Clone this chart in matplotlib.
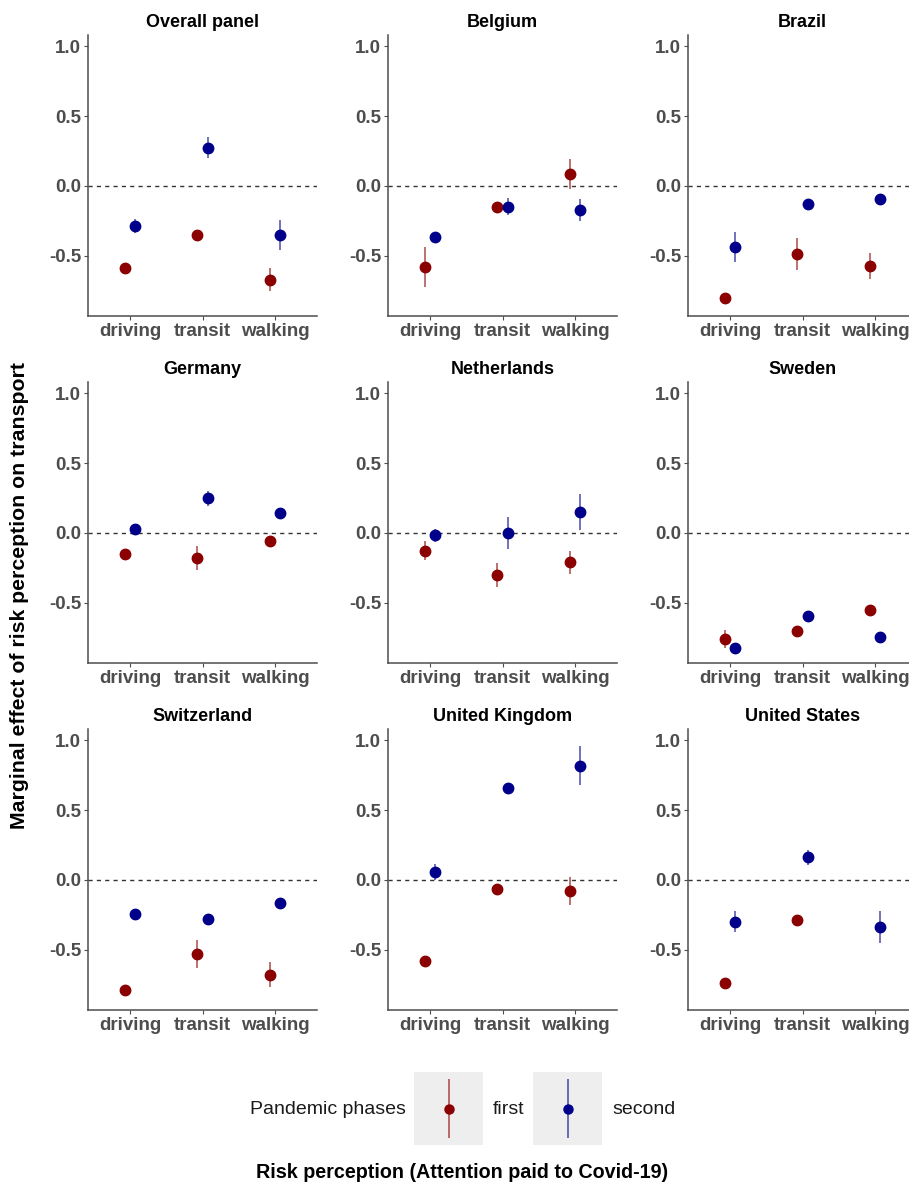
import matplotlib
matplotlib.use("Agg")
import matplotlib.pyplot as plt
import numpy as np

plt.rcParams['font.family'] = ['Liberation Sans', 'DejaVu Sans']

# ── Données ──────────────────────────────────────────────────────────────────
modes = ["driving", "transit", "walking"]
panels = ["Overall panel", "Belgium", "Brazil",
          "Germany", "Netherlands", "Sweden",
          "Switzerland", "United Kingdom", "United States"]

# first phase : estimation et demi-largeur de l'intervalle
first_est = [
    [-0.585, -0.35, -0.67],
    [-0.58, -0.149, 0.086],
    [-0.80, -0.485, -0.573],
    [-0.15, -0.179, -0.057],
    [-0.126, -0.298, -0.21],
    [-0.757, -0.702, -0.552],
    [-0.785, -0.529, -0.677],
    [-0.577, -0.067, -0.081],
    [-0.739, -0.285, np.nan],
]
first_err = [
    [0.02, 0.025, 0.08],
    [0.14, 0.02, 0.11],
    [0.02, 0.115, 0.095],
    [0.02, 0.083, 0.02],
    [0.068, 0.086, 0.08],
    [0.063, 0.02, 0.02],
    [0.03, 0.10, 0.09],
    [0.03, 0.03, 0.10],
    [0.02, 0.02, 0.0],
]
# second phase
second_est = [
    [-0.285, 0.275, -0.35],
    [-0.362, -0.149, -0.17],
    [-0.437, -0.13, -0.09],
    [0.031, 0.248, 0.143],
    [-0.017, 0.0, 0.15],
    [-0.821, -0.595, -0.743],
    [-0.246, -0.28, -0.163],
    [0.057, 0.656, 0.818],
    [-0.299, 0.163, -0.335],
]
second_err = [
    [0.05, 0.075, 0.11],
    [0.02, 0.06, 0.08],
    [0.11, 0.02, 0.02],
    [0.02, 0.055, 0.02],
    [0.046, 0.114, 0.13],
    [0.02, 0.02, 0.02],
    [0.03, 0.02, 0.03],
    [0.06, 0.03, 0.139],
    [0.075, 0.054, 0.114],
]

RED = '#8B0000'
BLUE = '#00008B'
GREY = '#4d4d4d'
W, H = 909, 1187

fig = plt.figure(figsize=(W / 100, H / 100), dpi=100)

col_left = [88, 388, 688]
row_top = [35, 382, 729]
ax_w, ax_h = 229, 281

x = np.arange(1, len(modes) + 1)
dodge = 0.075

for i, name in enumerate(panels):
    r, c = divmod(i, 3)
    ax = fig.add_axes([col_left[c] / W, 1 - (row_top[r] + ax_h) / H,
                       ax_w / W, ax_h / H])
    ax.axhline(0, color='#333333', ls=(0, (3, 3)), lw=1, zorder=1)

    for est, err, col, off in [(first_est[i], first_err[i], RED, -dodge),
                               (second_est[i], second_err[i], BLUE, dodge)]:
        est = np.array(est)
        err = np.array(err)
        ax.vlines(x + off, est - err, est + err, color=col, lw=1.3,
                  alpha=0.6, zorder=2)
        ax.plot(x + off, est, 'o', color=col, ms=7.5, zorder=3)

    ax.set_xlim(0.42, 3.58)
    ax.set_ylim(-0.93, 1.08)
    ax.set_xticks(x)
    ax.set_xticklabels(modes)
    ax.set_yticks([-0.5, 0.0, 0.5, 1.0])
    ax.set_yticklabels(["-0.5", "0.0", "0.5", "1.0"])
    ax.tick_params(colors=GREY, labelcolor=GREY, labelsize=13.5,
                   length=3, width=0.8, pad=2)
    for lab in ax.get_xticklabels() + ax.get_yticklabels():
        lab.set_fontweight('bold')
    for s in ['top', 'right']:
        ax.spines[s].set_visible(False)
    for s in ['left', 'bottom']:
        ax.spines[s].set_color(GREY)
        ax.spines[s].set_linewidth(1.1)
    ax.set_title(name, fontsize=13, fontweight='bold', color='black', pad=6)

fig.text(20 / W, 1 - 596 / H, "Marginal effect of risk perception on transport",
         rotation=90, ha='center', va='center', fontsize=15.3,
         fontweight='bold')

# ── Légende ─────────────────────────────────────────────────────────────────
fig.text(250 / W, 1 - 1110 / H, "Pandemic phases", ha='left', va='center',
         fontsize=14, color='#1a1a1a')
for bx, col, lab in [(414, RED, "first"), (533, BLUE, "second")]:
    kax = fig.add_axes([bx / W, 1 - 1145 / H, 69 / W, 73 / H])
    kax.set_facecolor('#eeeeee')
    kax.set_xlim(0, 1)
    kax.set_ylim(0, 1)
    kax.vlines(0.5, 0.1, 0.9, color=col, lw=1.3, alpha=0.6)
    kax.plot(0.5, 0.5, 'o', color=col, ms=6.5)
    kax.set_xticks([])
    kax.set_yticks([])
    for s in kax.spines.values():
        s.set_visible(False)
    fig.text((bx + 79) / W, 1 - 1110 / H, lab, ha='left', va='center',
             fontsize=14, color='#1a1a1a')

fig.text(462 / W, 1 - 1173 / H, "Risk perception (Attention paid to Covid-19)",
         ha='center', va='center', fontsize=14.2, fontweight='bold')

fig.savefig("out.png", dpi=100)
